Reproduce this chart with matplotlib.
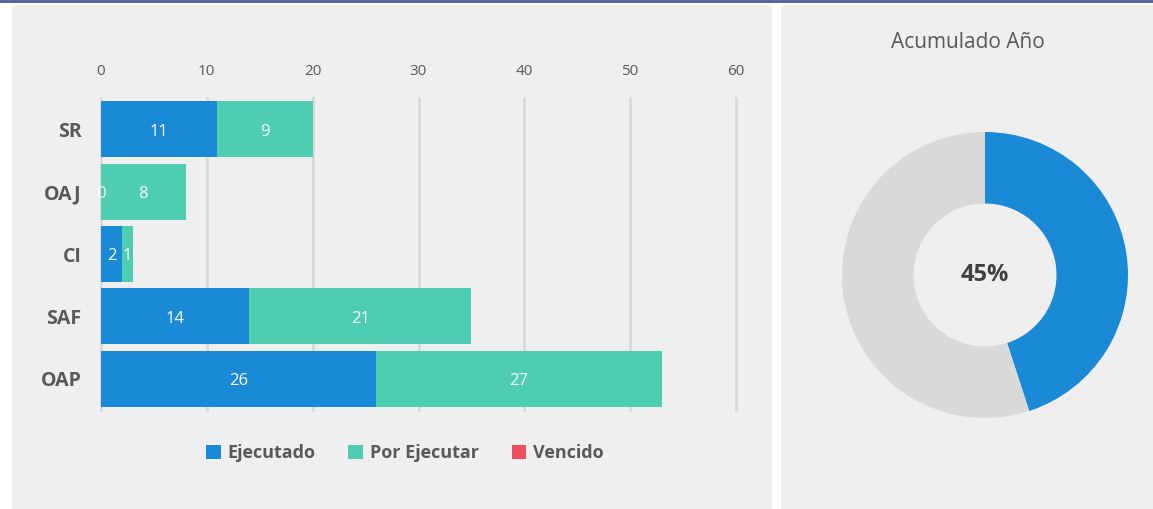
import numpy as np
import matplotlib.pyplot as plt
from matplotlib.patches import FancyBboxPatch, Patch
from matplotlib.lines import Line2D

plt.rcParams['font.family'] = ['Open Sans', 'DejaVu Sans']

# data
areas = ['SR', 'OAJ', 'CI', 'SAF', 'OAP']
ejecutado = np.array([11, 0, 2, 14, 26])
por_ejecutar = np.array([9, 8, 1, 21, 27])
vencido = np.array([0, 0, 0, 0, 0])
donut_labels = ['Ejecutado', 'Restante']
donut_pct = [45, 55]

c_blue = '#1a8ad6'
c_green = '#4ecdb0'
c_red = '#ee5060'
c_text = '#595959'
c_panel = '#efefef'

W, H = 1153, 509
fig = plt.figure(figsize=(W / 100, H / 100), dpi=100, facecolor='white')

# panels (drawn behind the axes)
for x0, x1 in [(12, 772), (781, 1160)]:
    fig.patches.append(FancyBboxPatch((x0 / W, -0.02), (x1 - x0) / W, 1 - 5 / H + 0.02,
                                      boxstyle='round,pad=0,rounding_size=0.006',
                                      transform=fig.transFigure, facecolor=c_panel,
                                      edgecolor='none', zorder=-10))
fig.lines.append(Line2D([0, 1], [1 - 1 / H, 1 - 1 / H], transform=fig.transFigure,
                        color='#4a5f9a', lw=2, zorder=-5))

# bar chart
ax = fig.add_axes([101 / W, 1 - 410 / H, (736 - 101) / W, 312 / H])
ax.set_facecolor('none')
y = np.arange(len(areas))
h = 0.9
ax.barh(y, ejecutado, height=h, color=c_blue, zorder=3)
ax.barh(y, por_ejecutar, left=ejecutado, height=h, color=c_green, zorder=3)
ax.barh(y, vencido, left=ejecutado + por_ejecutar, height=h, color=c_red, zorder=3)

for i in range(len(areas)):
    ax.text(ejecutado[i] / 2, y[i] + 0.04, str(ejecutado[i]), ha='center', va='center',
            color='white', fontsize=12, zorder=4)
    ax.text(ejecutado[i] + por_ejecutar[i] / 2, y[i] + 0.04, str(por_ejecutar[i]),
            ha='center', va='center', color='white', fontsize=12, zorder=4)

ax.set_xlim(0, 60)
ax.set_ylim(4.5, -0.5)
ax.set_xticks(range(0, 61, 10))
ax.set_yticks(y)
ax.set_yticklabels(areas, fontweight='bold', fontsize=14)
ax.xaxis.tick_top()
ax.tick_params(axis='x', length=0, pad=14, labelsize=11, labelcolor=c_text)
ax.tick_params(axis='y', length=0, pad=14, labelcolor=c_text)
for s in ax.spines.values():
    s.set_visible(False)
ax.grid(axis='x', color='#d9d9d9', lw=2, zorder=0)
ax.grid(axis='y', visible=False)
for gl in ax.get_xgridlines():
    gl.set_clip_on(False)

handles = [Patch(facecolor=c_blue, label='Ejecutado'),
           Patch(facecolor=c_green, label='Por Ejecutar'),
           Patch(facecolor=c_red, label='Vencido')]
leg = fig.legend(handles=handles, loc='center', bbox_to_anchor=(405 / W, 1 - 453 / H),
                 ncol=3, frameon=False, handlelength=0.8, handleheight=0.8,
                 handletextpad=0.4, columnspacing=1.8,
                 prop={'weight': 'bold', 'size': 13})
for t in leg.get_texts():
    t.set_color(c_text)

# donut
axd = fig.add_axes([842 / W, 1 - 418 / H, 286 / W, 286 / H])
axd.pie(donut_pct, colors=[c_blue, '#d9d9d9'], startangle=90, counterclock=False,
        radius=1, wedgeprops=dict(width=0.5, edgecolor='none'))
axd.set_xlim(-1, 1)
axd.set_ylim(-1, 1)
axd.set_aspect('equal')
axd.text(0, 0, f'{donut_pct[0]}%', ha='center', va='center', fontsize=17,
         fontweight='bold', color='#404040')
fig.text(968 / W, 1 - 43 / H, 'Acumulado Año', ha='center', va='center',
         fontsize=15, color=c_text)

fig.savefig('out.png', dpi=100, facecolor='white')
